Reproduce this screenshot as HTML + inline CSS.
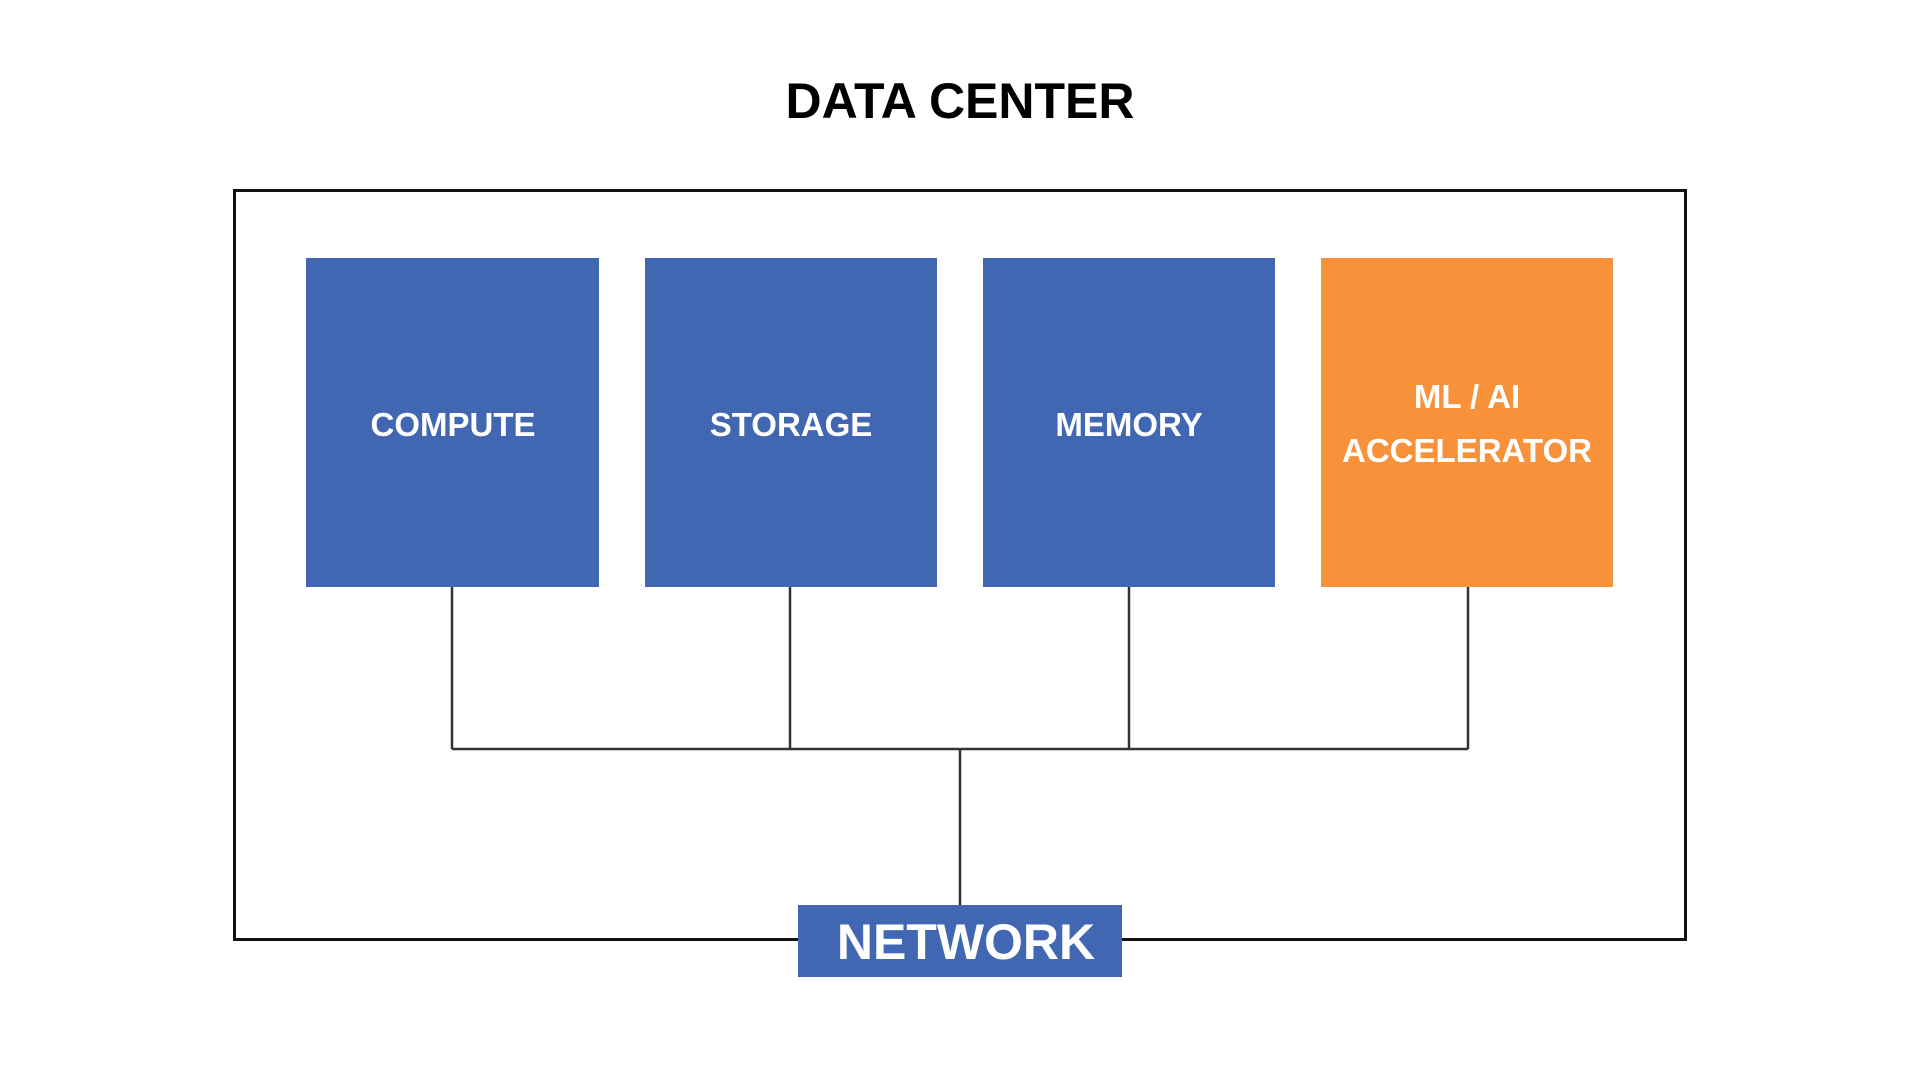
<!DOCTYPE html>
<html><head><meta charset="utf-8"><style>
html,body{margin:0;padding:0;background:#fff;}
svg{display:block;}
text{font-family:"Liberation Sans",sans-serif;font-weight:bold;}
</style></head><body>
<svg width="1920" height="1080" viewBox="0 0 1920 1080">
<rect width="1920" height="1080" fill="#fff"/>
<text x="960" y="118" text-anchor="middle" font-size="50" fill="#000">DATA CENTER</text>
<rect x="234.5" y="190.5" width="1451" height="749" fill="none" stroke="#111" stroke-width="3"/>
<g stroke="#333" stroke-width="2.5" fill="none">
<line x1="452" y1="587" x2="452" y2="749"/>
<line x1="790" y1="587" x2="790" y2="749"/>
<line x1="1129" y1="587" x2="1129" y2="749"/>
<line x1="1468" y1="587" x2="1468" y2="749"/>
<line x1="452" y1="749" x2="1468" y2="749"/>
<line x1="960" y1="749" x2="960" y2="905"/>
</g>
<rect x="306" y="258" width="293" height="329" fill="#4267B2"/>
<rect x="645" y="258" width="292" height="329" fill="#4267B2"/>
<rect x="983" y="258" width="292" height="329" fill="#4267B2"/>
<rect x="1321" y="258" width="292" height="329" fill="#F7923A"/>
<g fill="#fff" font-size="33" text-anchor="middle">
<text x="453" y="436">COMPUTE</text>
<text x="791" y="436">STORAGE</text>
<text x="1129" y="436">MEMORY</text>
<text x="1467" y="408">ML / AI</text>
<text x="1467" y="462">ACCELERATOR</text>
</g>
<rect x="798" y="905" width="324" height="72" fill="#4267B2"/>
<text x="966" y="959" text-anchor="middle" font-size="50" fill="#fff">NETWORK</text>
</svg>
</body></html>
